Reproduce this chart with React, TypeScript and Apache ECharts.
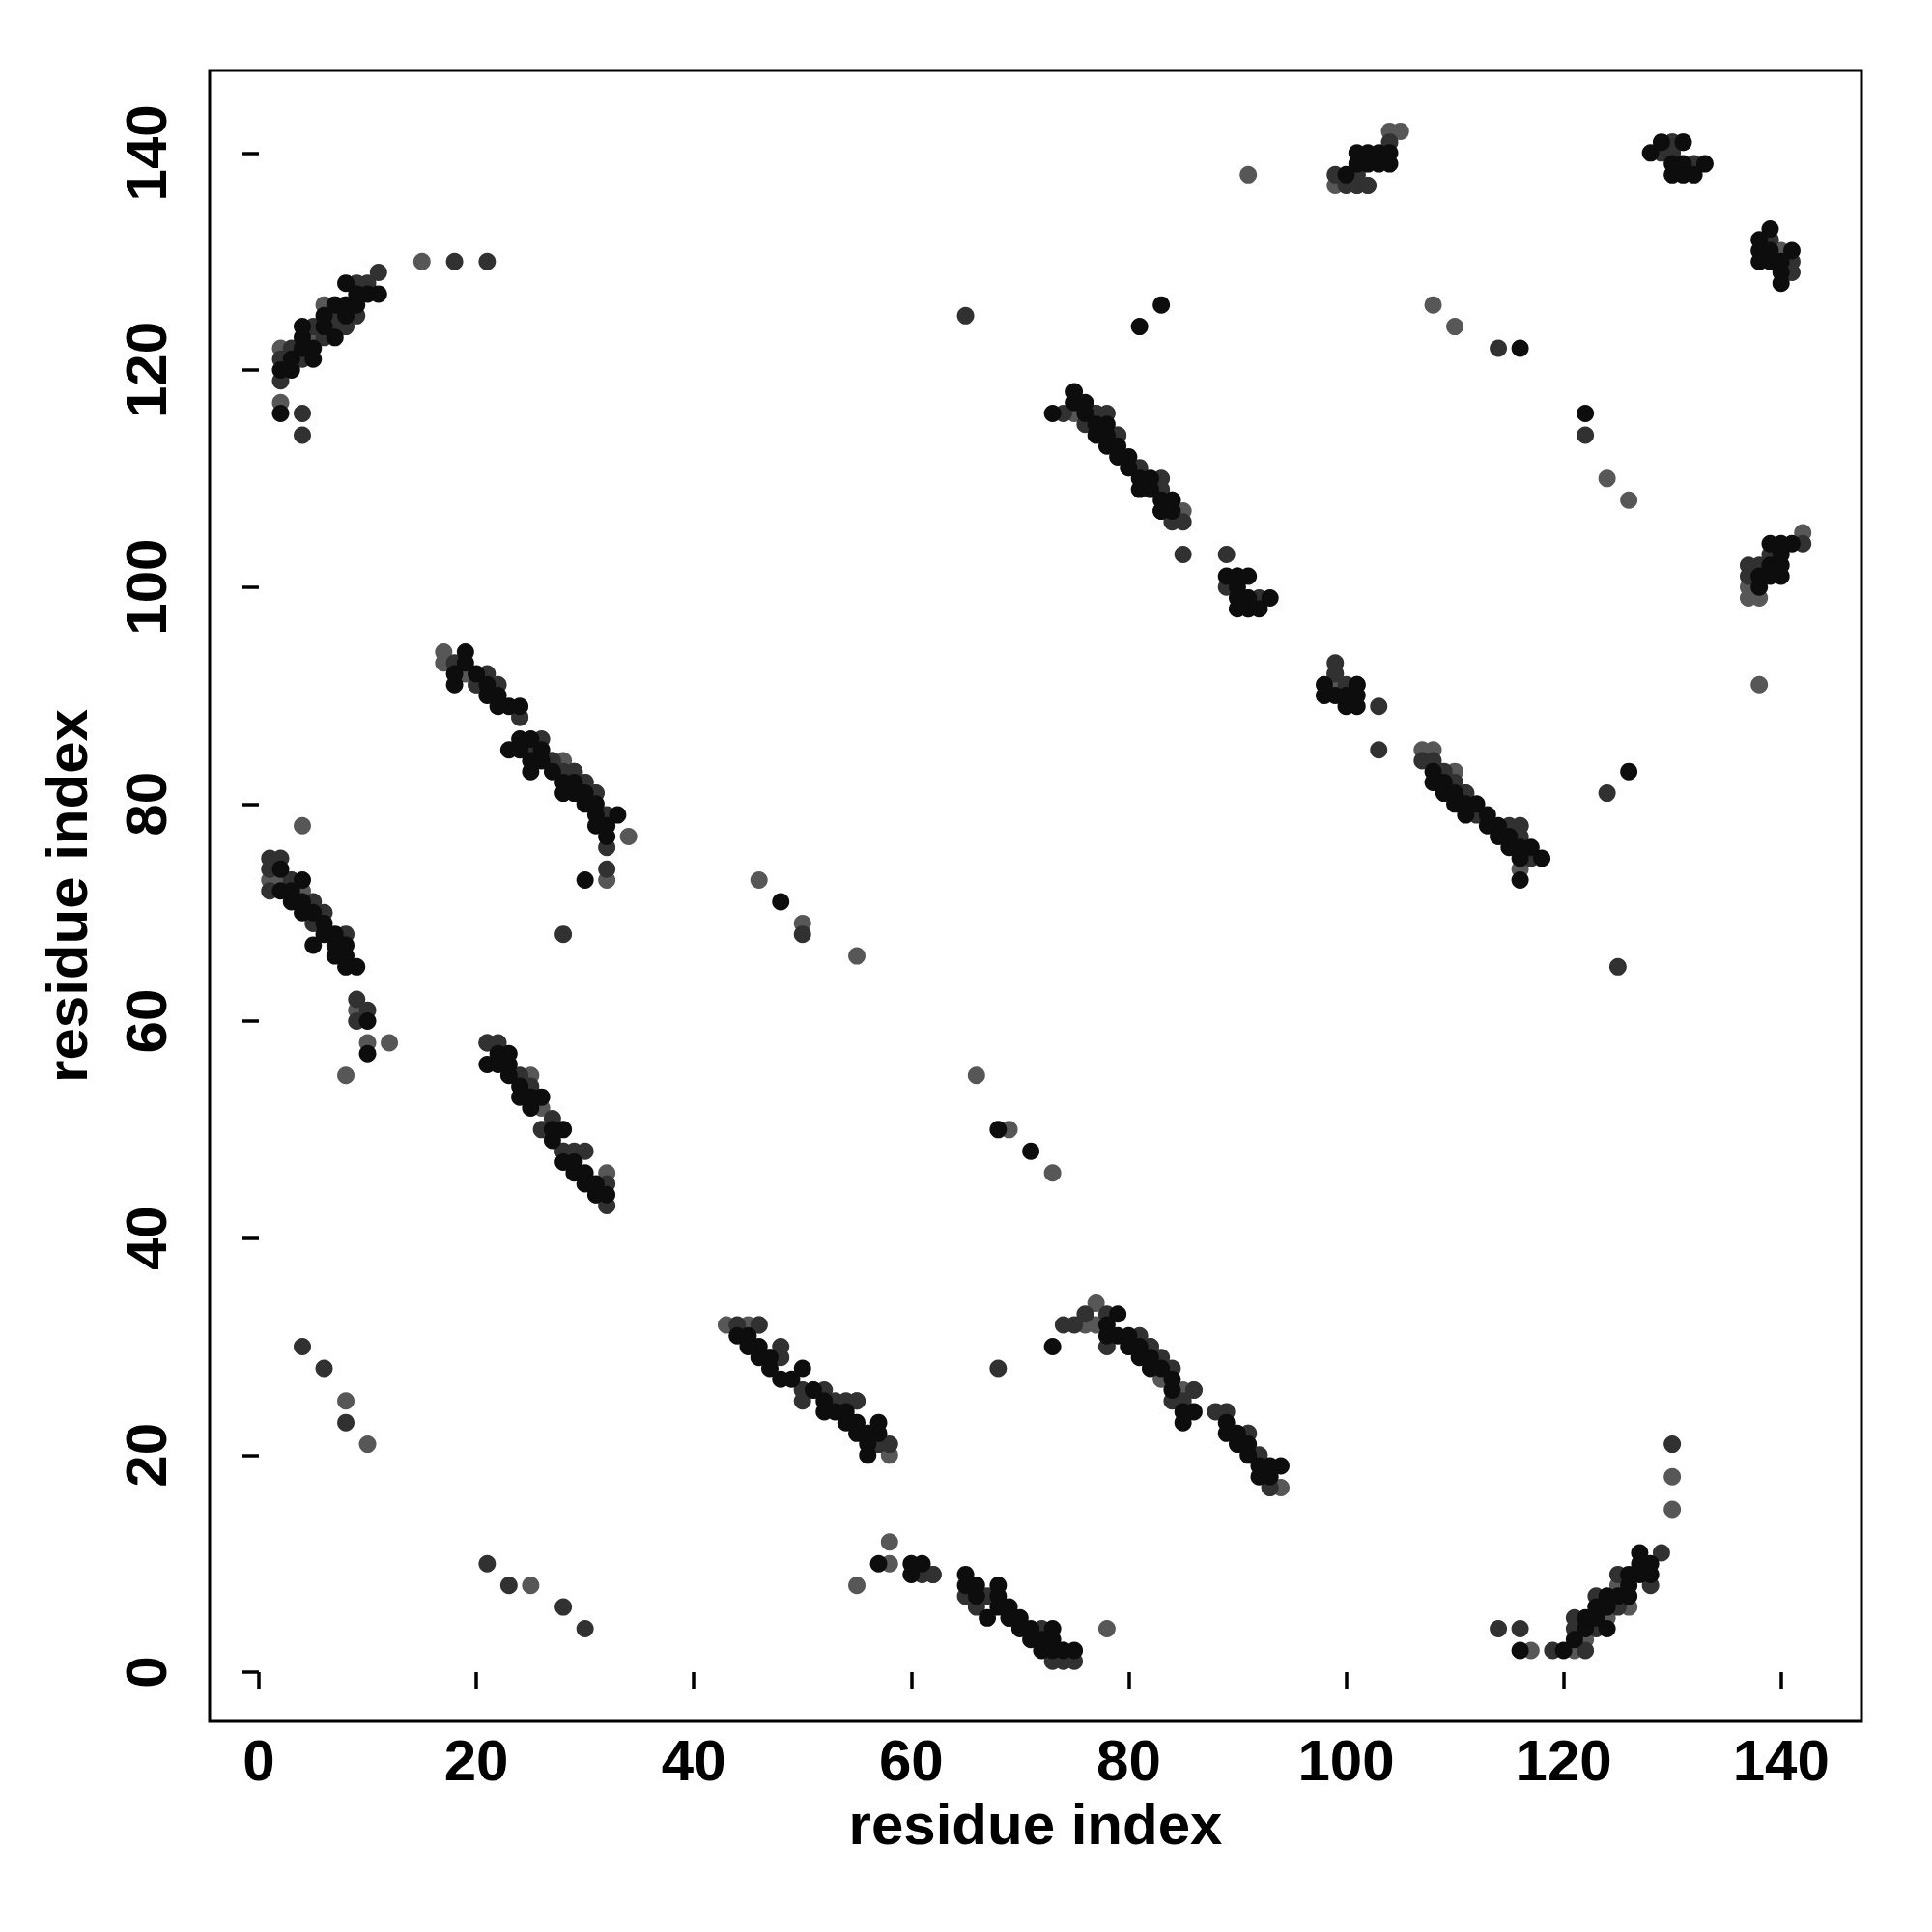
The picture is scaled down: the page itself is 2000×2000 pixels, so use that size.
import React, { useEffect, useRef } from "react";
import * as echarts from "echarts";

const xTicks = [0, 20, 40, 60, 80, 100, 120, 140];
const yTicks = [0, 20, 40, 60, 80, 100, 120, 140];

// darkest contacts
const darkPoints: number[][] = [
  [2,116],[2,120],[3,120],[3,121],[4,122],[4,123],[4,124],[5,121],[5,122],[6,124],[6,125],[7,123],[7,126],[8,125],[8,126],[8,128],[9,126],[9,127],[10,127],[11,127],
  [18,91],[18,92],[19,93],[19,94],[20,92],[21,90],[21,91],[22,89],[22,90],[23,89],[24,89],[23,85],[24,85],[24,86],[25,83],[25,84],[25,86],[26,84],[26,85],[27,83],[28,81],[28,82],[29,81],[29,82],[30,80],[30,81],[31,78],[31,79],[31,80],[32,77],[32,78],[33,79],[30,73],
  [2,72],[2,74],[3,71],[3,72],[4,70],[4,71],[4,73],[5,70],[5,67],[6,68],[6,69],[7,66],[7,67],[7,68],[8,65],[8,66],[8,67],[9,65],[10,60],[10,57],
  [21,56],[22,56],[22,57],[23,55],[23,56],[23,57],[24,53],[24,54],[25,52],[25,53],[26,53],[27,49],[27,50],[28,47],[28,50],[29,46],[29,47],[30,45],[30,46],[31,44],[31,45],[32,44],
  [44,31],[45,30],[45,31],[46,29],[46,30],[47,28],[47,29],[48,27],[49,27],[50,28],[51,26],[52,24],[52,25],[53,24],[54,23],[54,24],[55,22],[55,23],[56,20],[56,21],[56,22],[57,22],[57,23],
  [73,30],[78,31],[78,32],[79,31],[79,33],[80,30],[80,31],[81,29],[81,30],[82,28],[82,29],[83,28],[84,26],[84,27],[85,24],[85,23],[86,24],[89,22],[89,23],[90,21],[90,22],[91,20],[91,21],[92,18],[92,19],[93,18],[93,19],[94,19],
  [57,10],[60,9],[60,10],[61,10],[65,8],[65,9],[66,7],[66,8],[67,5],[68,6],[68,7],[68,8],[69,5],[69,6],[70,4],[70,5],[71,3],[71,4],[72,2],[72,3],[73,2],[73,3],[73,4],[74,2],[75,2],
  [73,116],[75,117],[75,118],[76,116],[76,117],[77,114],[77,115],[78,113],[78,114],[78,115],[79,112],[79,113],[80,111],[80,112],[81,109],[81,110],[82,109],[82,110],[83,107],[83,108],[84,107],[84,108],
  [89,101],[90,98],[90,99],[90,100],[90,101],[91,98],[91,99],[91,101],[92,98],[93,99],
  [98,90],[98,91],[99,90],[100,89],[100,90],[101,89],[101,90],[101,91],
  [108,82],[108,83],[109,81],[109,82],[110,80],[110,81],[111,79],[111,80],[112,80],[113,78],[113,79],[114,77],[114,78],[115,76],[115,77],[116,73],[116,75],[116,76],[117,76],[118,75],
  [100,138],[101,139],[101,140],[102,139],[102,140],[103,139],[103,140],[104,139],[104,140],
  [128,140],[129,141],[130,138],[130,139],[131,138],[131,139],[131,141],[132,138],[133,139],
  [138,130],[138,131],[138,132],[139,130],[139,131],[139,133],[140,128],[140,129],[140,130],[141,131],
  [138,100],[138,101],[139,101],[139,102],[139,104],[140,101],[140,102],[140,103],[140,104],[141,104],
  [116,2],[120,2],[121,3],[122,4],[122,5],[123,5],[123,6],[124,4],[124,6],[124,7],[125,7],[126,7],[126,8],[126,9],[127,9],[127,10],[128,9],[128,10],[127,11],
  [48,71],[68,50],[71,48],[116,122],[122,116],[81,124],[83,126],[126,83],
];

// medium grey contacts
const midPoints: number[][] = [
  [2,119],[2,121],[3,122],[4,121],[4,116],[4,114],[5,124],[6,123],[7,124],[7,125],[8,124],[9,125],[9,128],[10,128],[11,129],[18,130],[21,130],
  [18,93],[20,91],[21,92],[22,91],[24,88],[25,85],[26,86],[27,84],[28,83],[29,83],[30,82],[31,81],[32,76],[32,79],[32,74],[28,68],
  [1,72],[1,74],[1,75],[2,75],[3,73],[5,69],[5,71],[6,70],[8,68],[9,62],[10,61],[9,60],
  [21,58],[22,58],[24,55],[25,54],[26,50],[27,51],[28,48],[29,48],[30,48],[32,45],[32,43],
  [44,32],[46,32],[48,29],[48,30],[50,25],[50,26],[52,26],[53,25],[54,25],[55,25],[57,21],[58,21],
  [74,32],[75,32],[76,33],[78,30],[78,33],[81,31],[82,30],[83,29],[84,25],[84,28],[85,25],[86,26],[88,24],[89,24],[91,22],[92,20],[93,17],
  [61,9],[62,9],[65,7],[66,6],[67,7],[69,5],[72,4],[73,1],[74,1],[75,1],
  [74,116],[76,115],[77,116],[78,116],[79,114],[81,111],[83,109],[83,110],[84,106],[85,106],[85,103],[89,103],[89,100],[91,98],[92,99],
  [99,92],[99,93],[100,91],[101,91],[103,89],[103,85],
  [107,84],[108,84],[109,83],[110,82],[111,81],[112,79],[115,78],[116,77],[116,78],[117,75],
  [99,138],[100,137],[101,137],[101,138],[102,137],[104,141],
  [129,140],[130,140],[130,141],[132,139],
  [139,132],[141,129],[141,130],
  [137,101],[137,102],[138,102],[139,103],[142,104],
  [114,4],[116,4],[119,2],[121,4],[121,5],[122,2],[123,4],[123,7],[125,6],[125,9],[128,8],[129,11],[130,21],
  [65,125],[114,122],[122,114],[124,81],[125,65],[50,68],[4,30],[6,28],[8,23],[21,10],[23,8],[28,6],[30,4],[68,28],
];

// lighter grey contacts
const lightPoints: number[][] = [
  [2,117],[2,122],[3,121],[5,123],[6,126],[7,126],[8,126],[15,130],
  [17,93],[17,94],[19,92],[20,91],[24,88],[27,84],[28,84],[29,83],[30,82],[31,81],[32,78],[34,77],[32,73],
  [1,73],[2,73],[3,73],[4,72],[4,78],[9,61],[10,58],[12,58],[8,55],
  [25,55],[26,52],[28,48],[31,44],[32,46],[21,58],
  [43,32],[45,32],[46,32],[47,29],[50,26],[51,26],[55,25],[56,22],[58,20],
  [76,32],[77,32],[77,34],[80,30],[81,30],[82,30],[83,27],[85,26],[86,26],[91,22],[93,17],[94,17],
  [55,8],[58,10],[58,12],[62,9],[66,7],[72,3],[74,2],[78,4],
  [75,116],[76,116],[77,116],[79,114],[80,111],[83,107],[85,107],[84,108],
  [90,101],[91,99],[99,91],[99,92],
  [107,85],[108,85],[110,83],[111,81],[115,77],[116,74],[116,78],
  [99,137],[101,137],[101,138],[102,137],[105,142],[104,142],
  [130,141],[131,141],
  [139,132],[140,131],
  [137,99],[137,100],[138,99],[142,105],
  [117,2],[121,2],[122,3],[123,6],[125,8],[124,5],[126,6],[130,18],[130,15],
  [108,126],[110,124],[124,110],[126,108],[138,91],[91,138],
  [46,73],[50,69],[55,66],[66,55],[69,50],[73,46],[8,25],[10,21],[25,8],
];

export default function App() {
  const ref = useRef<HTMLDivElement>(null);
  useEffect(() => {
    if (!ref.current) return;
    const chart = echarts.init(ref.current, undefined, { renderer: "svg" });
    const font = "Liberation Sans";
    const tickStyle = { color: "#000", width: 3.5 };
    const nameStyle = { fontFamily: font, fontWeight: "bold" as const, fontSize: 60, color: "#000" };
    chart.setOption({
      animation: false,
      backgroundColor: "#fff",
      grid: {
        left: 217,
        right: 73,
        top: 73,
        bottom: 218,
        show: true,
        borderColor: "#000",
        borderWidth: 3,
        backgroundColor: "transparent",
      },
      xAxis: {
        type: "value",
        min: -4.53,
        max: 147.4,
        splitLine: { show: false },
        axisLine: { show: false },
        name: "residue index",
        nameLocation: "middle",
        nameGap: 76,
        nameTextStyle: nameStyle,
        axisLabel: {
          fontFamily: font,
          fontWeight: "bold",
          fontSize: 60,
          color: "#000",
          margin: 10,
          customValues: xTicks,
        },
        axisTick: { show: true, length: 17, lineStyle: tickStyle, customValues: xTicks },
      },
      yAxis: {
        type: "value",
        min: -4.54,
        max: 147.6,
        splitLine: { show: false },
        axisLine: { show: false },
        name: "residue index",
        nameLocation: "middle",
        nameGap: 118,
        nameTextStyle: nameStyle,
        axisLabel: {
          fontFamily: font,
          fontWeight: "bold",
          fontSize: 60,
          color: "#000",
          margin: 36,
          rotate: 90,
          customValues: yTicks,
        },
        axisTick: { show: true, length: 17, lineStyle: tickStyle, customValues: yTicks },
      },
      series: [
        { type: "scatter", data: lightPoints, symbolSize: 18, itemStyle: { color: "#575757", opacity: 1 } },
        { type: "scatter", data: midPoints, symbolSize: 18, itemStyle: { color: "#313131", opacity: 1 } },
        { type: "scatter", data: darkPoints, symbolSize: 18, itemStyle: { color: "#0d0d0d", opacity: 1 } },
      ],
    });
    return () => chart.dispose();
  }, []);
  return (
    <div
      ref={ref}
      style={{ position: "fixed", left: 0, top: 0, width: 2000, height: 2000, background: "#fff" }}
    />
  );
}
